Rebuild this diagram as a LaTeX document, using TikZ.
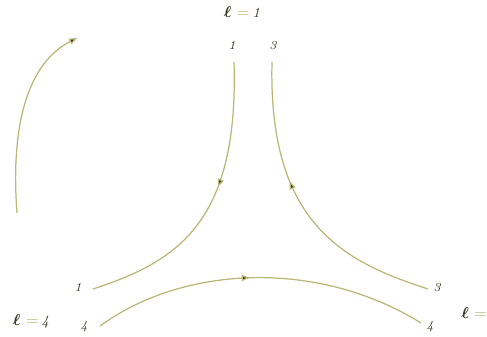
\documentclass[tikz,border=0pt]{standalone}
\usepackage{amsmath,bm}
\usepackage{xcolor}
\usetikzlibrary{arrows.meta,decorations.markings}

\definecolor{lineolive}{RGB}{185,182,118}
\definecolor{inkolive}{RGB}{55,55,35}

\begin{document}
\begin{tikzpicture}[
    x=0.02cm, y=-0.02cm,
    lbl/.style={
        inner sep=0pt,
        text=inkolive,
        font=\scriptsize\itshape
    },
    elbl/.style={
        inner sep=0pt,
        text=inkolive,
        font=\small
    },
    leg/.style={
        draw=lineolive,
        line width=0.7pt
    },
    midarrow/.style={
        postaction={decorate},
        decoration={markings,
            mark=at position #1 with {\arrow{Triangle[width=3.5pt,length=4.5pt,fill=inkolive]}}}
    },
    tiparrow/.style={-{Triangle[width=3.5pt,length=4.5pt,fill=inkolive]}}
]

\useasboundingbox (0,0) rectangle (487,336);

% labels
\node[elbl] (ltop) at (242,12) {$\bm{\ell}$ {\color{lineolive}=}\,\textit{\footnotesize 1}};
\node[elbl] (lleft) at (31,321) {$\bm{\ell}$ {\color{lineolive}=}\,\textit{\footnotesize 4}};
\node[elbl, anchor=west] (lright) at (461,313) {$\bm{\ell}$ {\color{lineolive}=}};

\node[lbl] (ntopa) at (232,45) {1};
\node[lbl] (ntopb) at (273,46) {3};
\node[lbl] (nlefta) at (78,287) {1};
\node[lbl] (nleftb) at (84,327) {4};
\node[lbl] (nrighta) at (437,288) {3};
\node[lbl] (nrightb) at (430,327) {4};

% end points of the legs
\coordinate (a1) at (234,62);
\coordinate (a2) at (93,289);
\coordinate (b1) at (272,62);
\coordinate (b2) at (428,289);
\coordinate (c1) at (100,326);
\coordinate (c2) at (421,323);
\coordinate (d1) at (17,213);
\coordinate (d2) at (77,38);

% legs
\draw[leg, midarrow=0.43] (a1) .. controls (239,225) and (175,262) .. (a2);
\draw[leg, midarrow=0.6] (b2) .. controls (345,262) and (268,225) .. (b1);
\draw[leg, midarrow=0.47] (c1) .. controls (185,264) and (320,260) .. (c2);

% free arrow
\draw[leg, tiparrow] (d1) .. controls (10,120) and (30,62) .. (d2);

\end{tikzpicture}
\end{document}
